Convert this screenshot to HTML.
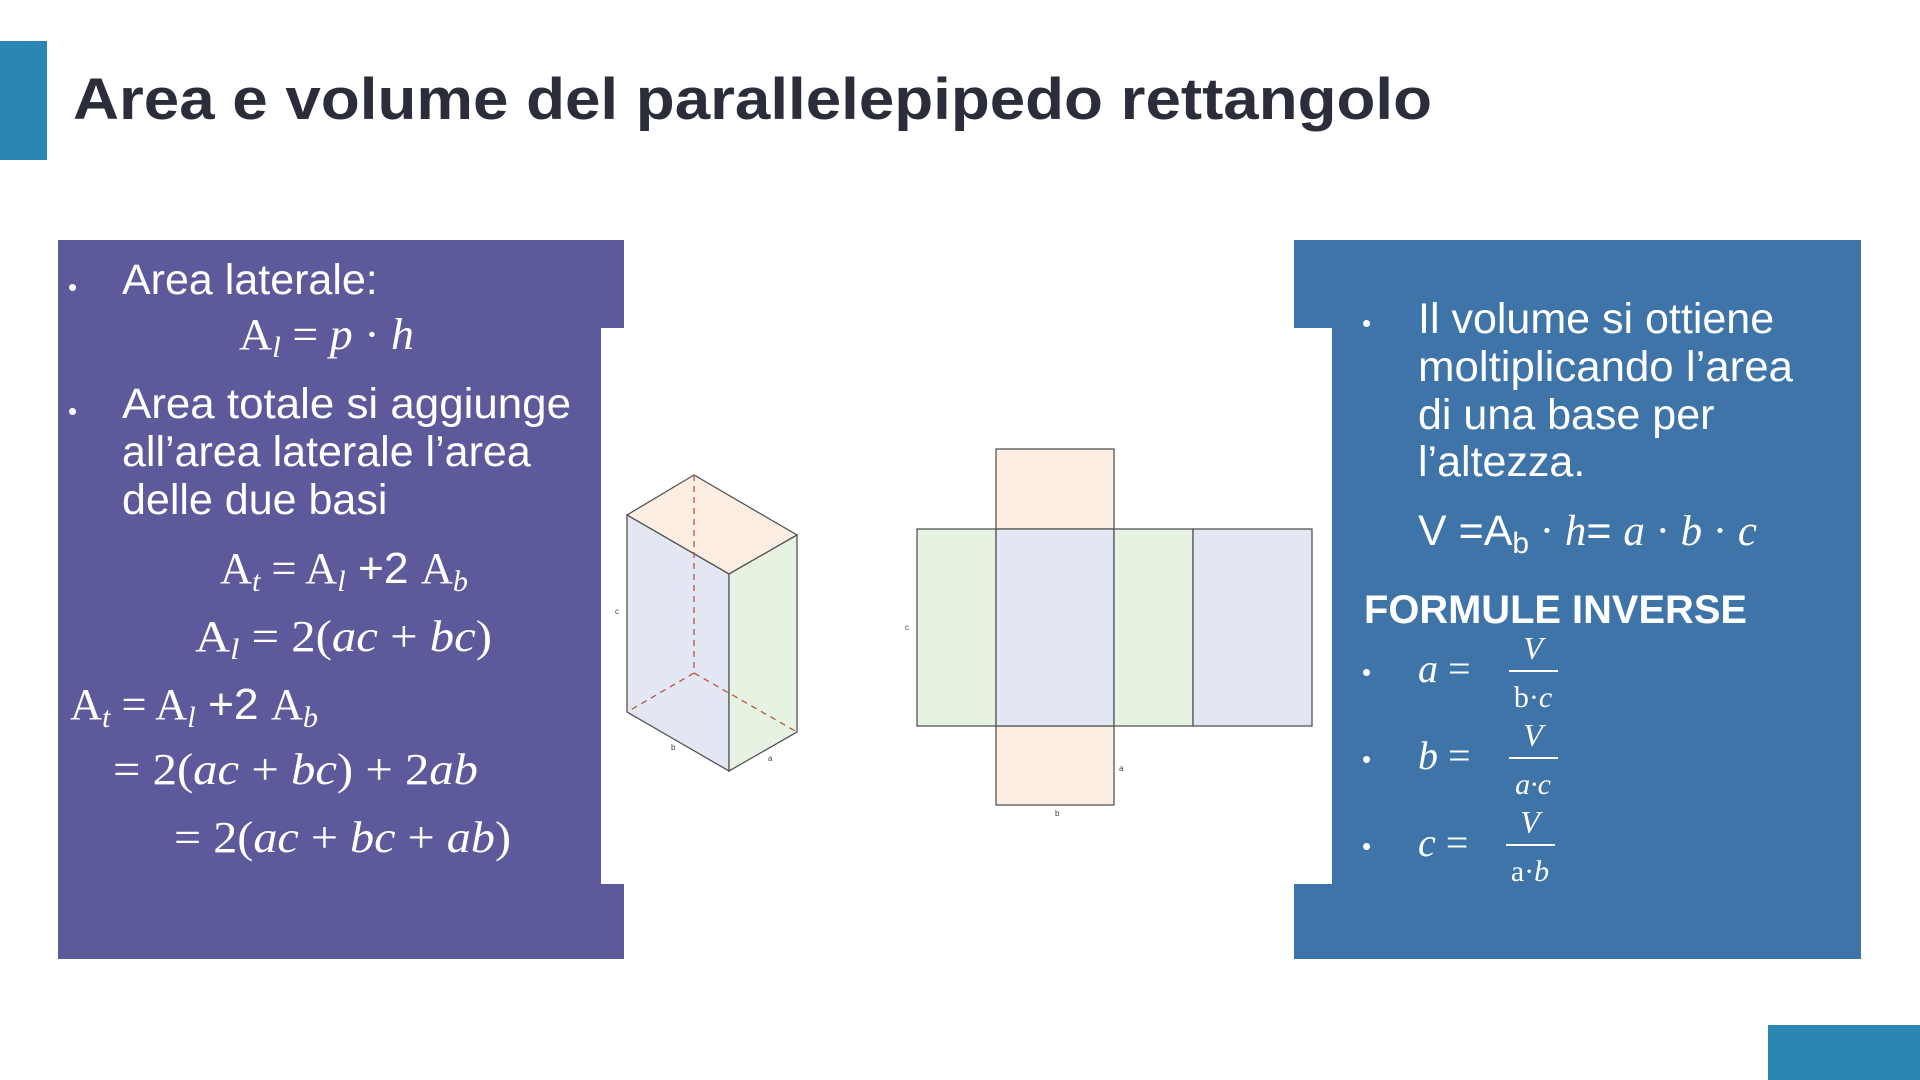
<!DOCTYPE html>
<html><head><meta charset="utf-8"><style>
html,body{margin:0;padding:0;background:#fff;width:1920px;height:1080px;overflow:hidden}
svg{display:block}
.s{font-family:"Liberation Sans",sans-serif;fill:#fff}
.m{font-family:"Liberation Serif",serif;fill:#fff}
.i{font-style:italic}
</style></head><body>
<svg width="1920" height="1080" viewBox="0 0 1920 1080" xmlns="http://www.w3.org/2000/svg">
<rect x="0" y="41" width="47" height="119" fill="#2a86b2"/>
<text x="73" y="119" font-family="Liberation Sans,sans-serif" font-weight="bold" font-size="58" fill="#2b2d3a" textLength="1359" lengthAdjust="spacingAndGlyphs">Area e volume del parallelepipedo rettangolo</text>
<rect x="1768" y="1025" width="152" height="55" fill="#2a86b2"/>

<!-- left panel -->
<path d="M58 240H624V328H601V884H624V959H58Z" fill="#5d5a9c"/>
<g class="s" font-size="43">
<text x="68" y="296" font-size="26">•</text>
<text x="122" y="294">Area laterale:</text>
<text x="68" y="420" font-size="26">•</text>
<text x="122" y="418" textLength="449" lengthAdjust="spacingAndGlyphs">Area totale si aggiunge</text>
<text x="122" y="466">all’area laterale l’area</text>
<text x="122" y="514">delle due basi</text>
</g>
<g class="m" font-size="44">
<text x="239" y="349" textLength="175" lengthAdjust="spacingAndGlyphs">A<tspan class="i" font-size="30" dy="8">l</tspan><tspan dy="-8"> = </tspan><tspan class="i">p</tspan> · <tspan class="i">h</tspan></text>
<text x="220" y="583" textLength="248" lengthAdjust="spacingAndGlyphs">A<tspan class="i" font-size="30" dy="8">t</tspan><tspan dy="-8"> = A</tspan><tspan class="i" font-size="30" dy="8">l</tspan><tspan dy="-8" font-family="Liberation Sans,sans-serif"> +2 </tspan>A<tspan class="i" font-size="30" dy="8">b</tspan></text>
<text x="195" y="651" textLength="297" lengthAdjust="spacingAndGlyphs">A<tspan class="i" font-size="30" dy="8">l</tspan><tspan dy="-8"> = 2(</tspan><tspan class="i">ac</tspan> + <tspan class="i">bc</tspan>)</text>
<text x="70" y="719" textLength="248" lengthAdjust="spacingAndGlyphs">A<tspan class="i" font-size="30" dy="8">t</tspan><tspan dy="-8"> = A</tspan><tspan class="i" font-size="30" dy="8">l</tspan><tspan dy="-8" font-family="Liberation Sans,sans-serif"> +2 </tspan>A<tspan class="i" font-size="30" dy="8">b</tspan></text>
<text x="113" y="784" textLength="365" lengthAdjust="spacingAndGlyphs">= 2(<tspan class="i">ac</tspan> + <tspan class="i">bc</tspan>) + 2<tspan class="i">ab</tspan></text>
<text x="174" y="852" textLength="337" lengthAdjust="spacingAndGlyphs">= 2(<tspan class="i">ac</tspan> + <tspan class="i">bc</tspan> + <tspan class="i">ab</tspan>)</text>
</g>

<!-- right panel -->
<path d="M1294 240H1861V959H1294V884H1332V328H1294Z" fill="#3f74a8"/>
<g class="s" font-size="43">
<text x="1362" y="332" font-size="26">•</text>
<text x="1418" y="333">Il volume si ottiene</text>
<text x="1418" y="381" textLength="375" lengthAdjust="spacingAndGlyphs">moltiplicando l’area</text>
<text x="1418" y="429">di una base per</text>
<text x="1418" y="476">l’altezza.</text>
<text x="1418" y="545" textLength="339" lengthAdjust="spacingAndGlyphs">V =A<tspan font-size="30" dy="8">b</tspan><tspan dy="-8" class="m"> · </tspan><tspan class="m i">h</tspan>= <tspan class="m i">a</tspan><tspan class="m"> · </tspan><tspan class="m i">b</tspan><tspan class="m"> · </tspan><tspan class="m i">c</tspan></text>
<text x="1364" y="623" font-weight="bold" font-size="40" textLength="383" lengthAdjust="spacingAndGlyphs">FORMULE INVERSE</text>
</g>
<g class="m" font-size="40">
<text x="1362" y="681" font-size="26" class="s">•</text>
<text x="1418" y="682"><tspan class="i">a</tspan> =</text>
<text x="1533" y="659" text-anchor="middle" class="i" font-size="32">V</text>
<rect x="1509" y="670" width="49" height="2" fill="#fff"/>
<text x="1533" y="707" text-anchor="middle" font-size="30">b·<tspan class="i">c</tspan></text>

<text x="1362" y="768" font-size="26" class="s">•</text>
<text x="1418" y="769"><tspan class="i">b</tspan> =</text>
<text x="1533" y="746" text-anchor="middle" class="i" font-size="32">V</text>
<rect x="1509" y="757" width="49" height="2" fill="#fff"/>
<text x="1533" y="794" text-anchor="middle" font-size="30" class="i">a·c</text>

<text x="1362" y="855" font-size="26" class="s">•</text>
<text x="1418" y="856"><tspan class="i">c</tspan> =</text>
<text x="1530" y="833" text-anchor="middle" class="i" font-size="32">V</text>
<rect x="1506" y="844" width="49" height="2" fill="#fff"/>
<text x="1530" y="881" text-anchor="middle" font-size="30">a·<tspan class="i">b</tspan></text>
</g>

<!-- 3D box -->
<g stroke="#555" stroke-width="1.3">
<polygon points="694,475 627,515 729,574 797,535" fill="#fdeee3"/>
<polygon points="627,515 729,574 729,771 627,712" fill="#e3e7f4"/>
<polygon points="729,574 797,535 797,732 729,771" fill="#e6f3e3"/>
<g stroke="#b5563f" stroke-dasharray="6,5" fill="none">
<line x1="694" y1="475" x2="694" y2="673"/>
<line x1="694" y1="673" x2="627" y2="712"/>
<line x1="694" y1="673" x2="797" y2="732"/>
</g>
</g>
<g font-family="Liberation Sans,sans-serif" font-size="8" fill="#444">
<text x="615" y="614">c</text><text x="671" y="750">b</text><text x="768" y="761">a</text>
</g>

<!-- net -->
<g stroke="#555" stroke-width="1.3">
<rect x="996" y="449" width="118" height="80" fill="#fdeee3"/>
<rect x="996" y="726" width="118" height="79" fill="#fdeee3"/>
<rect x="917" y="529" width="79" height="197" fill="#e6f3e3"/>
<rect x="996" y="529" width="118" height="197" fill="#e3e7f4"/>
<rect x="1114" y="529" width="79" height="197" fill="#e6f3e3"/>
<rect x="1193" y="529" width="119" height="197" fill="#e3e7f4"/>
</g>
<g font-family="Liberation Sans,sans-serif" font-size="8" fill="#444">
<text x="905" y="630">c</text><text x="1119" y="771">a</text><text x="1055" y="816">b</text>
</g>
</svg>
</body></html>
